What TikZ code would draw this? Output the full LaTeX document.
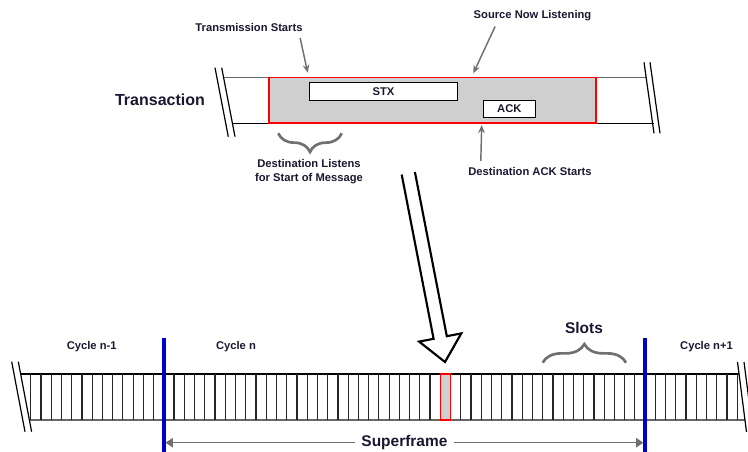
\documentclass[tikz,border=0pt]{standalone}
\usepackage{fontspec}
\setmainfont{Liberation Sans}
\usetikzlibrary{arrows.meta,positioning,decorations.pathreplacing}
\definecolor{inkcol}{RGB}{24,24,48}
\definecolor{framecol}{RGB}{207,207,207}
\definecolor{pointcol}{RGB}{112,112,112}
\definecolor{cyclecol}{RGB}{0,0,204}
\definecolor{edgecol}{RGB}{255,0,0}

\begin{document}
\begin{tikzpicture}[x=0.75pt, y=-0.75pt,
    lbl/.style={font=\bfseries\fontsize{8.4}{10.5}\selectfont, text=inkcol, inner sep=1pt},
    biglbl/.style={font=\bfseries\fontsize{12}{14}\selectfont, text=inkcol, inner sep=1pt},
    msgbox/.style={draw, fill=white, line width=0.8pt, inner sep=0pt,
        font=\bfseries\fontsize{8.4}{10}\selectfont, text=inkcol},
    pointer/.style={draw=pointcol, line width=1.1pt, -{Stealth[length=6pt,width=5pt]}},
    gbrace/.style={draw=pointcol, line width=2pt, decorate, decoration={brace, amplitude=14pt}},
    breakmark/.style={line width=0.9pt},
    slotline/.style={draw=black!85, line width=0.9pt},
    cycleline/.style={draw=cyclecol, line width=2.6pt},
    sfarrow/.style={draw=pointcol, line width=0.9pt, {Triangle[length=5.5pt,width=7pt]}-{Triangle[length=5.5pt,width=7pt]}},
    hollowarrow/.style={draw, fill=white, line width=1.6pt, line join=miter},
]
\useasboundingbox (0,0) rectangle (748,452);

% transaction bar
\draw[black!60, line width=1pt] (223.6,77.7) -- (646.2,77.7);
\draw[line width=0.8pt] (232.4,123.3) -- (653.5,123.3);
\fill[framecol] (269,77.7) rectangle (595.7,123.3);
\draw[edgecol, line width=1.2pt] (269,77.7) -- (595.7,77.7) -- (595.7,123.3) -- (269,123.3) -- cycle;
\draw[breakmark] (215,67.7) -- (228.3,136.7) (221.7,67.7) -- (235,136.7);
\draw[breakmark] (644,62.3) -- (654,133.3) (650,62.3) -- (660,133.3);

\node[msgbox, minimum width=111pt, minimum height=13.5pt] (stx) at (383.5,91.7) {STX};
\node[msgbox, minimum width=39pt, minimum height=12.5pt] (ack) at (509.3,109) {ACK};
\node[biglbl] (trans) at (160,100) {Transaction};

% callouts
\node[lbl] (txstart) at (249,27.3) {Transmission Starts};
\node[lbl] (srclisten) at (532.5,15.7) {Source Now Listening};
\node[lbl] (dstack) at (530,171.7) {Destination ACK Starts};
\node[lbl, align=center] (dstlisten) at (309,172) {Destination Listens\\for Start of Message};
\coordinate (txstartTip) at (307.7,72.7);
\coordinate (srclistenTip) at (473.3,73.3);
\coordinate (dstackTip) at (481.7,125);
\draw[pointer] ([shift={(-4,5)}]txstart.south east) -- (txstartTip);
\draw[pointer] ([shift={(23,4)}]srclisten.south west) -- (srclistenTip);
\draw[pointer] ([shift={(14,-5)}]dstack.north west) -- (dstackTip);
\draw[gbrace] (341.7,133.3) -- (278.3,133.3);

% zoom arrow
\draw[hollowarrow] (401.7,174.6) -- (433.6,338.8) -- (419.1,341.6) -- (445,362)
    -- (461.3,333.4) -- (446.8,336.2) -- (414.9,172.0);

% slot bar
\draw[line width=0.8pt] (20.5,374) -- (739,374);
\draw[black!60, line width=1pt] (28.6,420) -- (745,420);
\foreach \k in {0,...,69}
    \draw[slotline] ({30.7+\k*10.24},374) -- ({30.7+\k*10.24},420);
\fill[framecol] (440.3,374) rectangle (450.5,420);
\draw[edgecol, line width=1.2pt] (440.3,374) -- (450.5,374) -- (450.5,420) -- (440.3,420) -- cycle;
\draw[breakmark] (11.7,361.7) -- (25,431.7) (18.3,361.7) -- (31.6,431.7);
\draw[breakmark] (737.5,362) -- (746.5,432) (744,362) -- (753,432);

\draw[cycleline] (163.8,338) -- (163.8,455);
\draw[cycleline] (645.1,338) -- (645.1,455);

\node[lbl] (cycprev) at (91.7,346.7) {Cycle n-1};
\node[lbl] (cyccur) at (236,346.7) {Cycle n};
\node[lbl] (cycnext) at (706.5,346.7) {Cycle n+1};
\node[biglbl, font=\bfseries\fontsize{11.6}{14}\selectfont] (slots) at (584,328) {Slots};
\draw[gbrace] (542.7,362.7) -- (626,362.7);

\coordinate (sfL) at (165.5,442.7);
\coordinate (sfR) at (643.4,442.7);
\draw[sfarrow] (sfL) -- (sfR) node[midway, fill=white, inner sep=5pt, text=inkcol,
    font=\bfseries\fontsize{11.6}{14}\selectfont] (superframe) {Superframe};
\end{tikzpicture}
\end{document}
